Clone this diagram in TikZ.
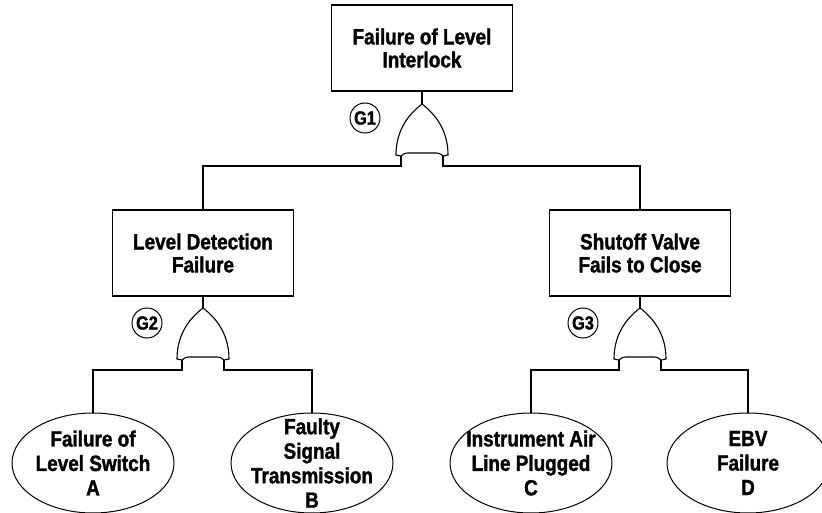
\documentclass[tikz,border=0pt]{standalone}
\usepackage{fontspec}
\setmainfont{Liberation Sans}[FakeStretch=0.86,BoldFeatures={FakeBold=1.5}]
\usepackage{tikz}
\usetikzlibrary{shapes.geometric}

% OR gate with its apex at #1; legs are #2-l and #2-r
\newcommand{\orgate}[2]{%
  \begin{scope}[shift={#1}]
    \draw[gateline] (0,0) .. controls (-17,13) and (-26,30) .. (-26,51) -- (-21,52)
      .. controls (-17,49) .. (-11,49) -- (11,49) .. controls (17,49) .. (21,52)
      -- (26,51) .. controls (26,30) and (17,13) .. (0,0);
    \coordinate (#2) at (0,0);
    \coordinate (#2-l) at (-21,52);
    \coordinate (#2-r) at (21,52);
  \end{scope}}

\tikzset{
  gateline/.style={line width=1.1pt},
  wire/.style={line width=1.3pt},
  event/.style={shape=rectangle,draw=black,line width=1.5pt,minimum width=181,minimum height=86,
    align=center,font=\fontsize{22}{23}\selectfont\bfseries},
  basic/.style={shape=ellipse,draw=black,line width=1pt,minimum width=162,minimum height=100,
    inner sep=-16pt,align=center,font=\fontsize{22}{24.5}\selectfont\bfseries},
  gatetag/.style={shape=circle,draw=black,line width=1pt,minimum size=30,inner sep=0pt,
    font=\fontsize{19}{19}\selectfont\bfseries}
}

\begin{document}
\begin{tikzpicture}[x=1pt,y=-1pt]
\useasboundingbox (0,0) rectangle (822,513);

% events
\node[event] (top) at (422,48) {Failure of Level\\Interlock};
\node[event] (lvl) at (203,253) {Level Detection\\Failure};
\node[event] (svf) at (640,253) {Shutoff Valve\\Fails to Close};

% basic events
\node[basic] (A) at (93,463) {Failure of\\Level Switch\\A};
\node[basic] (B) at (312,463) {Faulty\\Signal\\Transmission\\B};
\node[basic] (C) at (531,463) {Instrument Air\\Line Plugged\\C};
\node[basic] (D) at (748,463) {EBV\\Failure\\D};

% gates
\orgate{(422,104)}{g1}
\orgate{(203,308)}{g2}
\orgate{(640,308)}{g3}
\node[gatetag] (G1) at (365,118) {G1};
\node[gatetag] (G2) at (147,323) {G2};
\node[gatetag] (G3) at (583,323) {G3};

% connections
\draw[wire] (top) -- (g1);
\draw[wire] (g1-l) -- ++(0,10) -| (lvl.north);
\draw[wire] (g1-r) -- ++(0,10) -| (svf.north);
\draw[wire] (lvl) -- (g2);
\draw[wire] (svf) -- (g3);
\draw[wire] (g2-l) -- ++(0,10) -| (A.north);
\draw[wire] (g2-r) -- ++(0,10) -| (B.north);
\draw[wire] (g3-l) -- ++(0,10) -| (C.north);
\draw[wire] (g3-r) -- ++(0,10) -| (D.north);
\end{tikzpicture}
\end{document}
